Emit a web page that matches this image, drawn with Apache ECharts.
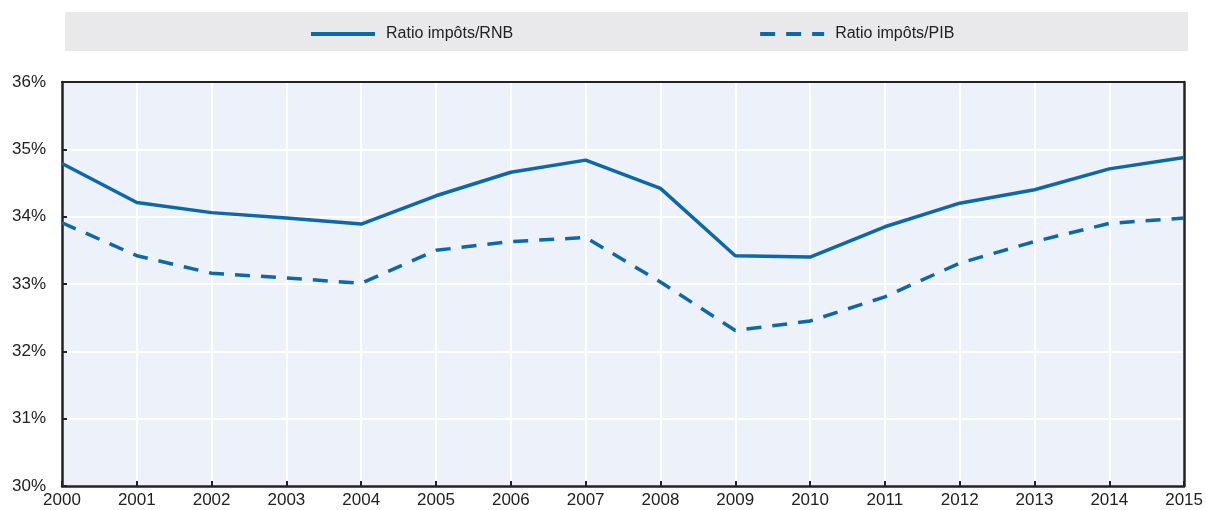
<!DOCTYPE html>
<html>
<head>
<meta charset="utf-8">
<script src="https://cdn.jsdelivr.net/npm/echarts@6/dist/echarts.min.js"></script>
<style>
  html, body { margin: 0; padding: 0; background: #fff; }
  #main { width: 1206px; height: 510px; }
</style>
</head>
<body>
<div id="main"></div>
<script>
let years = ['2000', '2001', '2002', '2003', '2004', '2005', '2006', '2007',
  '2008', '2009', '2010', '2011', '2012', '2013', '2014', '2015']
let ratioRNB = [34.79, 34.21, 34.06, 33.98, 33.89, 34.31, 34.66, 34.84,
  34.42, 33.42, 33.40, 33.85, 34.20, 34.40, 34.71, 34.88]
let ratioPIB = [33.91, 33.42, 33.16, 33.09, 33.01, 33.50, 33.63, 33.69,
  33.03, 32.31, 32.45, 32.81, 33.31, 33.63, 33.90, 33.98]
let seriesNames = ['Ratio impôts/RNB', 'Ratio impôts/PIB']

let blue = '#0b68ab'
let dark = '#222'
let font = '"Liberation Sans", Arial, sans-serif'

let chart = echarts.init(document.getElementById('main'))
let option = {
  animation: false,
  graphic: [
    {
      type: 'rect',
      z: -1,
      shape: { x: 65, y: 12, width: 1123, height: 39 },
      style: { fill: '#e9e9eb' }
    }
  ],
  legend: {
    data: seriesNames,
    left: 304,
    top: 21,
    itemWidth: 64,
    itemHeight: 14,
    itemGap: 245,
    itemStyle: { opacity: 0 },
    lineStyle: { width: 4 },
    textStyle: { fontFamily: font, fontSize: 16, color: dark, padding: [0, 0, 0, 6] }
  },
  grid: {
    left: 62,
    right: 18,
    top: 82,
    bottom: 24,
    show: true,
    backgroundColor: '#edf2fa',
    borderWidth: 0
  },
  xAxis: [
    {
      type: 'category',
      data: years,
      boundaryGap: false,
      axisLine: { lineStyle: { color: dark, width: 2.5 } },
      axisTick: { inside: true, length: 5, lineStyle: { color: dark, width: 2 } },
      axisLabel: { fontFamily: font, fontSize: 17, color: dark, margin: 6, interval: 0 },
      splitLine: { show: true, lineStyle: { color: '#fff', width: 2 } }
    },
    {
      // frame at the top
      type: 'category',
      data: years,
      position: 'top',
      boundaryGap: false,
      axisLine: { lineStyle: { color: dark, width: 2 } },
      axisTick: { show: false },
      axisLabel: { show: false },
      splitLine: { show: false }
    }
  ],
  yAxis: [
    {
      type: 'value',
      min: 30,
      max: 36,
      interval: 1,
      axisLine: { show: true, lineStyle: { color: dark, width: 2.5 } },
      axisTick: { show: true, inside: true, length: 5, lineStyle: { color: dark, width: 2 } },
      axisLabel: { fontFamily: font, fontSize: 17, color: dark, margin: 16, formatter: '{value}%' },
      splitLine: { lineStyle: { color: '#fff', width: 2 } }
    },
    {
      // frame at the right
      type: 'value',
      min: 30,
      max: 36,
      interval: 1,
      position: 'right',
      axisLine: { show: true, lineStyle: { color: dark, width: 2.5 } },
      axisTick: { show: false },
      axisLabel: { show: false },
      splitLine: { show: false }
    }
  ],
  series: [
    {
      name: seriesNames[0],
      type: 'line',
      symbol: 'none',
      data: ratioRNB,
      lineStyle: { color: blue, width: 3.5 },
      itemStyle: { color: blue }
    },
    {
      name: seriesNames[1],
      type: 'line',
      symbol: 'none',
      data: ratioPIB,
      lineStyle: { color: blue, width: 3.5, type: [15, 11] },
      itemStyle: { color: blue }
    }
  ]
}
chart.setOption(option)
</script>
</body>
</html>
